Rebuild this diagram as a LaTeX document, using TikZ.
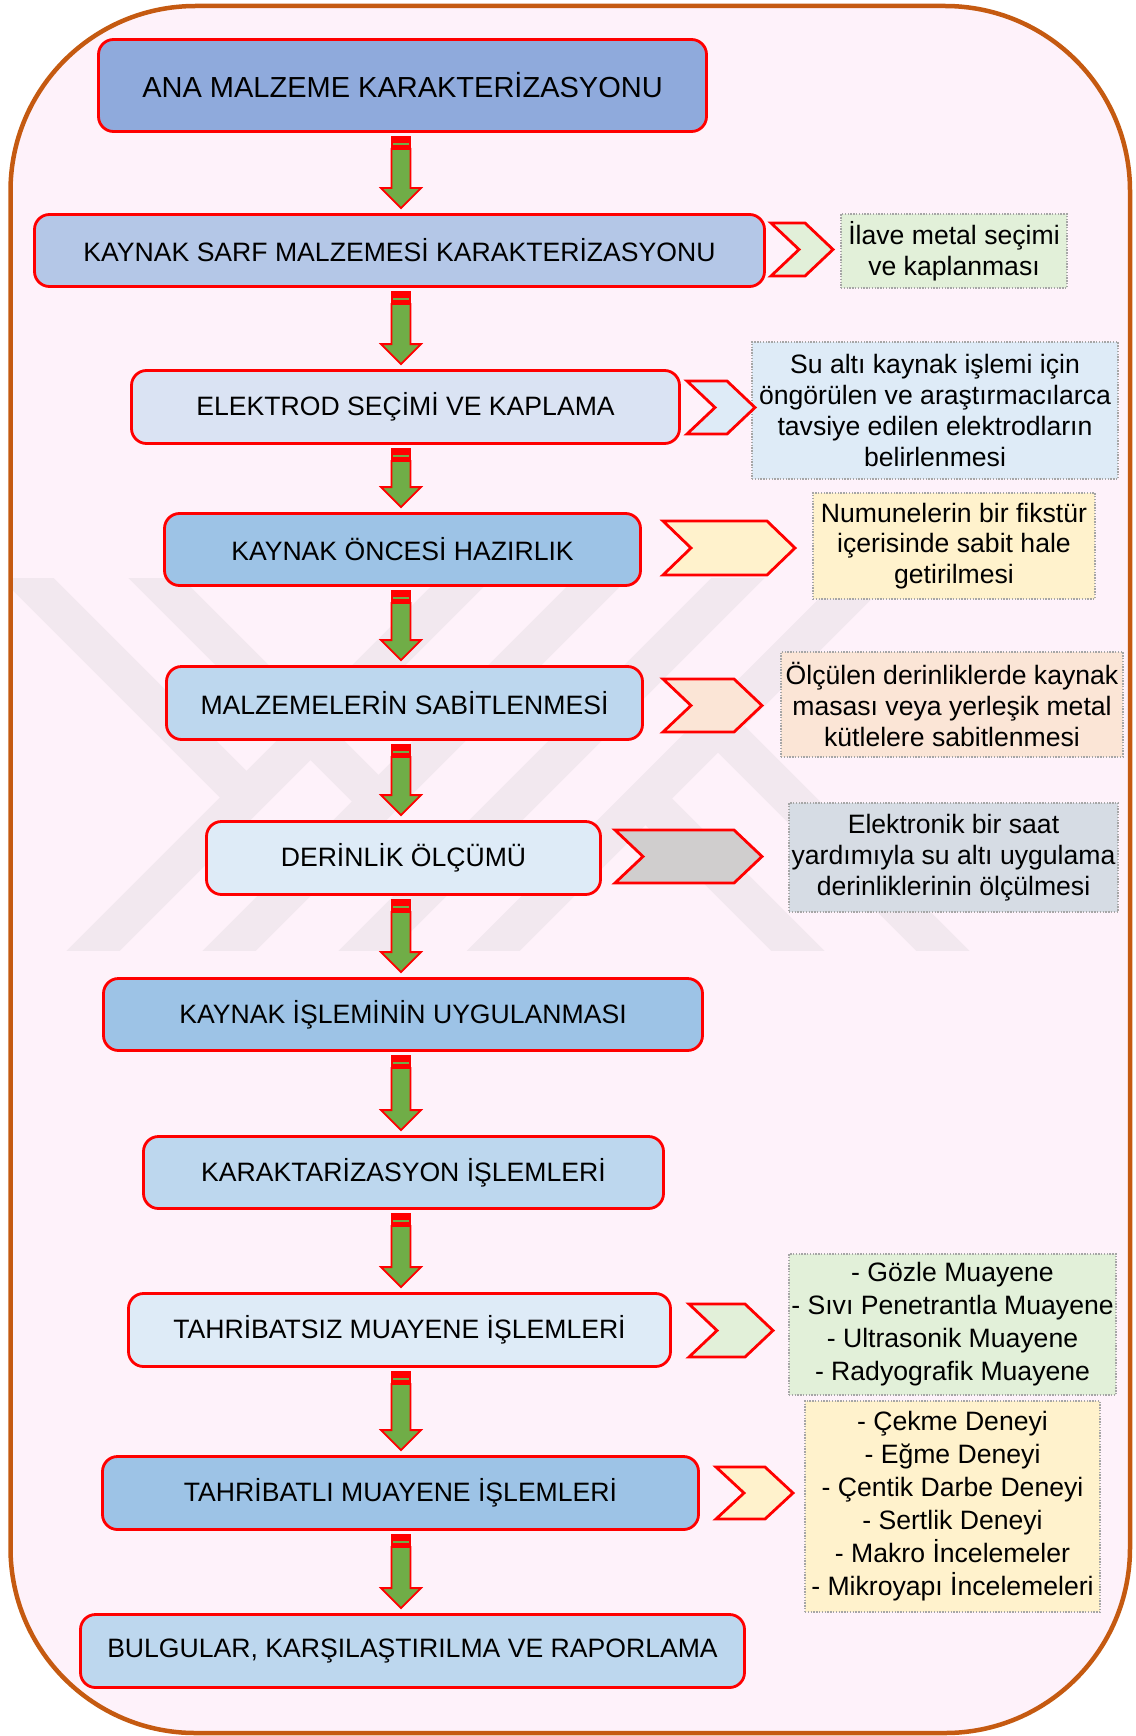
\documentclass[tikz,border=0pt]{standalone}
\usepackage{fontspec}
\setmainfont{Liberation Sans}
\usetikzlibrary{calc}

\definecolor{framebrown}{HTML}{C55A11}
\definecolor{bgpink}{HTML}{FEF2FA}
\definecolor{wmark}{HTML}{F2E8EF}
\definecolor{arrowgreen}{HTML}{70AD47}
\definecolor{notegrey}{HTML}{A6A6A6}
\definecolor{blueA}{HTML}{8FAADC}
\definecolor{blueB}{HTML}{B4C7E7}
\definecolor{blueC}{HTML}{DAE3F3}
\definecolor{blueD}{HTML}{9DC3E6}
\definecolor{blueE}{HTML}{BDD7EE}
\definecolor{blueF}{HTML}{DEEBF7}
\definecolor{greenL}{HTML}{E2F0D9}
\definecolor{yellowL}{HTML}{FFF2CC}
\definecolor{peachL}{HTML}{FBE5D6}
\definecolor{greyL}{HTML}{D0CECE}
\definecolor{slateL}{HTML}{D6DCE4}

\newcommand\flowarrow[2]{%
  \coordinate (fa-s) at ($(#1.south -| axis)+(0,3)$);
  \coordinate (fa-e) at ($(#2.north -| axis)+(0,-5)$);
  \fill[red] ($(fa-s)+(-10.4,0)$) rectangle ($(fa-s)+(10.4,13)$);
  \fill[arrowgreen] ($(fa-s)+(-8,7.3)$) rectangle ($(fa-s)+(8,9.3)$);
  \draw[arrowline] ($(fa-s)+(-9.5,13)$) -- ($(fa-s)+(9.5,13)$) -- ($(fa-e)+(9.5,-20)$)
    -- ($(fa-e)+(20,-20)$) -- (fa-e) -- ($(fa-e)+(-20,-20)$) -- ($(fa-e)+(-9.5,-20)$) -- cycle;}

\newcommand\chevmark[5]{%
  \draw[chev, fill=#1] (#2,#4) -- ({#3-28},#4) -- (#3,{(#4+#5)/2}) -- ({#3-28},#5)
    -- (#2,#5) -- ({#2+28},{(#4+#5)/2}) -- cycle;}

\begin{document}
\begin{tikzpicture}[x=1pt, y=-1pt,
  stage/.style={draw=red, line width=2.8pt, rounded corners=15pt, align=center, inner sep=0pt,
    font=\fontsize{26.6pt}{30.8pt}\selectfont},
  note/.style={draw=notegrey, line width=1.1pt, dash pattern=on 1.4pt off 1.4pt, align=center,
    inner sep=0pt, font=\fontsize{26.6pt}{30.8pt}\selectfont},
  list/.style={note, font=\fontsize{26.6pt}{33pt}\selectfont},
  chev/.style={draw=red, line width=2.8pt, line join=miter},
  arrowline/.style={draw=red, line width=1.8pt, fill=arrowgreen, line join=miter},
  band/.style={draw=wmark, line width=37.5pt}]
  \useasboundingbox (0,0) rectangle (1135,1736);
  \draw[framebrown, line width=4.5pt, fill=bgpink, rounded corners=185pt] (10.5,6) rectangle (1130,1733);

  \begin{scope}
    \clip (13,578) rectangle (1127,950);
    \draw[band] (-3,548) -- (246,797);
    \draw[band] (125,548) -- (378,801);
    \draw[band] (64,980) -- (496,548);
    \draw[band] (200,980) -- (632,548);
    \draw[band] (336,980) -- (768,548);
    \draw[band] (464,980) -- (896,548);
    \draw[band] (645,798) -- (827,980);
    \draw[band] (718,726) -- (972,980);
  \end{scope}

  \coordinate (axis) at (401,0);

  \node[note, fill=greenL, minimum width=226pt, minimum height=74pt] (n1) at (954,251)
    {İlave metal seçimi\\ve kaplanması};
  \node[note, fill=blueF, minimum width=366pt, minimum height=137pt] (n2) at (935,410.5)
    {Su altı kaynak işlemi için\\öngörülen ve araştırmacılarca\\tavsiye edilen elektrodların\\belirlenmesi};
  \node[note, fill=yellowL, minimum width=282pt, minimum height=106pt] (n3) at (954,546)
    {Numunelerin bir fikstür\\içerisinde sabit hale\\getirilmesi};
  \node[note, fill=peachL, minimum width=342pt, minimum height=105pt] (n4) at (952,704.5)
    {Ölçülen derinliklerde kaynak\\masası veya yerleşik metal\\kütlelere sabitlenmesi};
  \node[note, fill=slateL, minimum width=329pt, minimum height=109pt] (n5) at (953.5,857.5)
    {Elektronik bir saat\\yardımıyla su altı uygulama\\derinliklerinin ölçülmesi};
  \node[list, fill=greenL, minimum width=327pt, minimum height=141pt] (n6) at (952.5,1324.5)
    {- Gözle Muayene\\- Sıvı Penetrantla Muayene\\- Ultrasonik Muayene\\- Radyografik Muayene};
  \node[list, fill=yellowL, minimum width=295pt, minimum height=211pt] (n7) at (952.5,1506.5)
    {- Çekme Deneyi\\- Eğme Deneyi\\- Çentik Darbe Deneyi\\- Sertlik Deneyi\\- Makro İncelemeler\\- Mikroyapı İncelemeleri};

  \chevmark{greenL}{771}{833}{223}{276}
  \chevmark{blueF}{687}{755}{381}{434}
  \chevmark{yellowL}{663}{795}{521}{575}
  \chevmark{peachL}{663}{762}{679}{732}
  \chevmark{greyL}{615}{762}{830}{883}
  \chevmark{greenL}{689}{773}{1304}{1357}
  \chevmark{yellowL}{716}{793}{1467}{1519}

  \node[stage, fill=blueA, minimum width=608pt, minimum height=92pt,
    font=\fontsize{29pt}{34pt}\selectfont] (b1) at (402.5,85.5) {ANA MALZEME KARAKTERİZASYONU};
  \node[stage, fill=blueB, minimum width=730pt, minimum height=72pt] (b2) at (399.5,250.5)
    {KAYNAK SARF MALZEMESİ KARAKTERİZASYONU};
  \node[stage, fill=blueC, minimum width=548pt, minimum height=73pt] (b3) at (405.5,407)
    {ELEKTROD SEÇİMİ VE KAPLAMA};
  \node[stage, fill=blueD, minimum width=476pt, minimum height=72pt] (b4) at (402.5,549.5)
    {KAYNAK ÖNCESİ HAZIRLIK};
  \node[stage, fill=blueE, minimum width=476pt, minimum height=73pt] (b5) at (404.5,703)
    {MALZEMELERİN SABİTLENMESİ};
  \node[stage, fill=blueF, minimum width=394pt, minimum height=73pt] (b6) at (403.5,858)
    {DERİNLİK ÖLÇÜMÜ};
  \node[stage, fill=blueD, minimum width=599pt, minimum height=72pt] (b7) at (403,1014.5)
    {KAYNAK İŞLEMİNİN UYGULANMASI};
  \node[stage, fill=blueE, minimum width=520pt, minimum height=72pt] (b8) at (403.5,1172.5)
    {KARAKTARİZASYON İŞLEMLERİ};
  \node[stage, fill=blueF, minimum width=542pt, minimum height=73pt] (b9) at (399.5,1330)
    {TAHRİBATSIZ MUAYENE İŞLEMLERİ};
  \node[stage, fill=blueD, minimum width=596pt, minimum height=73pt] (b10) at (400.5,1493)
    {TAHRİBATLI MUAYENE İŞLEMLERİ};
  \node[stage, fill=blueE, minimum width=664pt, minimum height=73pt] (b11) at (412.5,1651)
    {BULGULAR, KARŞILAŞTIRILMA VE RAPORLAMA};

  \flowarrow{b1}{b2}
  \flowarrow{b2}{b3}
  \flowarrow{b3}{b4}
  \flowarrow{b4}{b5}
  \flowarrow{b5}{b6}
  \flowarrow{b6}{b7}
  \flowarrow{b7}{b8}
  \flowarrow{b8}{b9}
  \flowarrow{b9}{b10}
  \flowarrow{b10}{b11}
\end{tikzpicture}
\end{document}
